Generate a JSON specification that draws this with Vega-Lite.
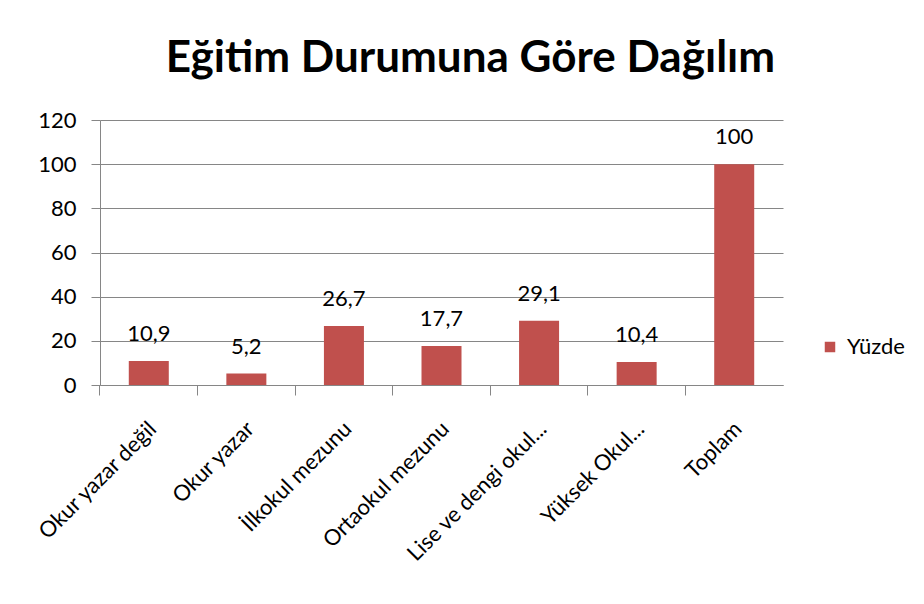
{
  "$schema": "https://vega.github.io/schema/vega-lite/v6.json",
  "autosize": "none",
  "width": 683,
  "height": 265,
  "padding": {"left": 100, "top": 120, "right": 141, "bottom": 219},
  "background": "white",
  "config": {
    "font": "Lato",
    "view": {"stroke": null},
    "locale": {"number": {"decimal": ",", "thousands": ".", "grouping": [3], "currency": ["", " TL"]}}
  },
  "title": {
    "text": "Eğitim Durumuna Göre Dağılım",
    "fontSize": 44,
    "fontWeight": "bold",
    "font": "Lato",
    "color": "#000000",
    "anchor": "middle",
    "frame": "group",
    "dx": 29,
    "offset": 28
  },
  "data": {
    "values": [
      {"kategori": "Okur yazar değil", "yuzde": 10.9},
      {"kategori": "Okur yazar", "yuzde": 5.2},
      {"kategori": "İlkokul mezunu", "yuzde": 26.7},
      {"kategori": "Ortaokul mezunu", "yuzde": 17.7},
      {"kategori": "Lise ve dengi okul...", "yuzde": 29.1},
      {"kategori": "Yüksek Okul...", "yuzde": 10.4},
      {"kategori": "Toplam", "yuzde": 100}
    ]
  },
  "encoding": {
    "x": {
      "field": "kategori",
      "type": "nominal",
      "sort": null,
      "scale": {"paddingInner": 0.59, "paddingOuter": 0.295},
      "axis": {
        "title": null,
        "labelAngle": -45,
        "labelAlign": "right",
        "labelBaseline": "middle",
        "labelFontSize": 22,
        "labelColor": "#000000",
        "labelPadding": 30,
        "labelLimit": 300,
        "domainColor": "#868686",
        "tickColor": "#868686",
        "tickSize": 10,
        "bandPosition": -0.72,
        "labelOffset": 4
      }
    },
    "y": {
      "field": "yuzde",
      "type": "quantitative",
      "scale": {"domain": [0, 120]},
      "axis": {
        "title": null,
        "values": [0, 20, 40, 60, 80, 100, 120],
        "labelFontSize": 22,
        "labelColor": "#000000",
        "labelPadding": 15,
        "tickSize": 9,
        "tickColor": "#868686",
        "domainColor": "#868686",
        "gridColor": "#868686",
        "grid": true
      }
    }
  },
  "layer": [
    {
      "mark": {"type": "bar", "color": "#C0504D"},
      "encoding": {
        "color": {
          "datum": "Yüzde",
          "type": "nominal",
          "scale": {"range": ["#C0504D"]},
          "legend": {
            "title": null,
            "orient": "none",
            "legendX": 719,
            "legendY": 216,
            "symbolType": "square",
            "symbolSize": 110,
            "labelFontSize": 22,
            "labelColor": "#000000",
            "labelOffset": 6,
            "padding": 0
          }
        }
      }
    },
    {
      "mark": {"type": "text", "baseline": "alphabetic", "dy": -20, "fontSize": 22, "color": "#000000"},
      "encoding": {
        "text": {"field": "yuzde", "type": "quantitative", "format": ".3~r"}
      }
    }
  ]
}
